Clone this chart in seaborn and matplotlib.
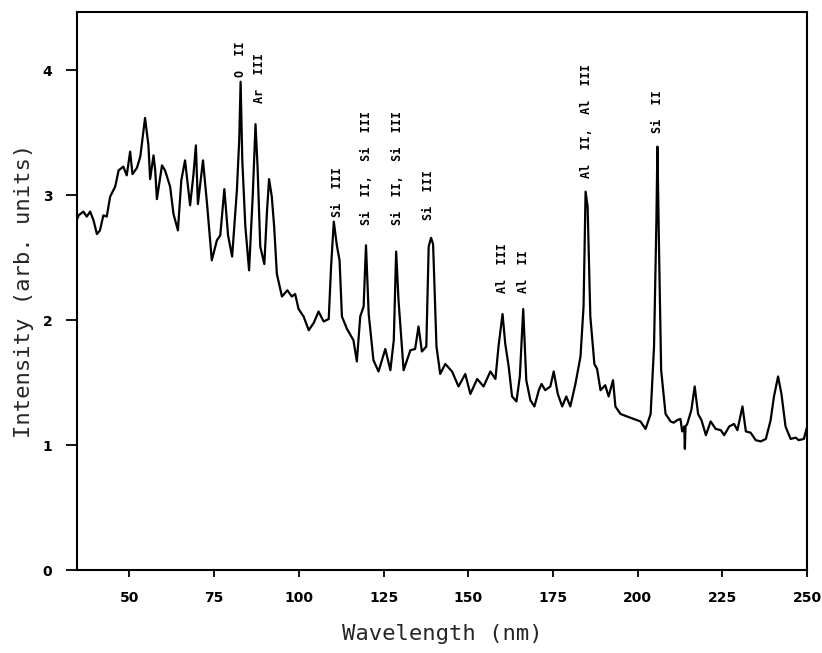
import matplotlib
matplotlib.use("Agg")
import matplotlib.pyplot as plt
import seaborn as sns

# --- Data ---
wavelength = [
    34.6, 35.0, 36.4, 37.4, 38.4, 39.4, 40.4, 41.3, 42.3, 43.3, 44.3, 45.8, 46.8, 48.2, 49.2,
    50.2, 50.9, 52.2, 53.2, 54.6, 55.6, 56.1, 57.1, 57.6, 58.1, 59.6, 60.5, 62.0, 63.0, 64.3,
    65.3, 66.4, 67.9, 68.9, 69.6, 70.2, 71.7, 72.9, 74.3, 75.8, 76.8, 78.0, 79.1, 80.3, 81.7,
    82.4, 82.8, 83.3, 84.2, 85.3, 86.4, 87.2, 87.8, 88.6, 89.8, 90.6, 91.2, 92.0, 92.7, 93.5,
    95.0, 96.6, 97.9, 98.9, 99.9, 100.4, 101.4, 102.9, 104.4, 105.8, 107.3, 108.8, 109.5, 110.3, 111.2,
    112.0, 112.7, 114.2, 116.1, 117.1, 118.1, 119.1, 119.8, 120.6, 122.0, 123.5, 125.5, 127.0, 128.0, 128.7,
    129.4, 130.9, 132.9, 134.3, 135.3, 136.3, 137.6, 138.3, 139.0, 139.6, 140.6, 141.7, 143.2, 145.2, 147.1,
    149.1, 150.6, 152.6, 154.5, 156.5, 158.0, 158.9, 160.1, 160.9, 161.9, 162.9, 164.2, 165.2, 166.2, 167.1,
    168.3, 169.5, 170.8, 171.6, 172.7, 174.2, 175.2, 176.4, 177.7, 178.9, 180.1, 181.6, 183.1, 184.0, 184.6,
    185.2, 186.0, 187.2, 188.0, 189.0, 190.4, 191.4, 192.7, 193.4, 194.9, 196.8, 198.8, 200.8, 202.3, 203.8,
    204.8, 205.5, 205.8, 206.3, 206.9, 208.2, 209.7, 210.6, 211.6, 212.6, 213.1, 213.7, 213.9, 214.1, 214.6,
    215.8, 216.8, 217.8, 218.8, 220.1, 221.5, 223.0, 224.5, 225.5, 227.0, 228.4, 229.4, 230.9, 231.9, 233.3,
    234.8, 236.3, 237.8, 239.2, 240.2, 241.4, 242.4, 243.6, 245.1, 246.6, 247.5, 249.0, 250.0,
]
intensity = [
    2.81, 2.84, 2.87, 2.83, 2.87, 2.80, 2.69, 2.72, 2.84, 2.83, 2.99, 3.07, 3.20, 3.23, 3.16,
    3.35, 3.17, 3.22, 3.31, 3.62, 3.40, 3.13, 3.32, 3.20, 2.97, 3.24, 3.20, 3.07, 2.85, 2.72,
    3.12, 3.28, 2.92, 3.17, 3.40, 2.93, 3.28, 2.93, 2.48, 2.64, 2.68, 3.05, 2.68, 2.51, 3.04,
    3.45, 3.91, 3.28, 2.75, 2.40, 3.01, 3.57, 3.23, 2.59, 2.45, 2.88, 3.13, 2.99, 2.75, 2.37,
    2.19, 2.24, 2.19, 2.21, 2.09, 2.07, 2.03, 1.92, 1.98, 2.07, 1.99, 2.01, 2.43, 2.79, 2.60,
    2.48, 2.03, 1.93, 1.84, 1.67, 2.03, 2.11, 2.60, 2.05, 1.68, 1.59, 1.77, 1.60, 1.84, 2.55,
    2.16, 1.60, 1.76, 1.77, 1.95, 1.75, 1.79, 2.59, 2.66, 2.61, 1.79, 1.57, 1.65, 1.59, 1.47,
    1.57, 1.41, 1.53, 1.47, 1.59, 1.53, 1.79, 2.05, 1.81, 1.63, 1.39, 1.35, 1.55, 2.09, 1.52,
    1.36, 1.31, 1.44, 1.49, 1.44, 1.47, 1.59, 1.41, 1.31, 1.39, 1.31, 1.49, 1.71, 2.11, 3.03,
    2.91, 2.03, 1.65, 1.61, 1.44, 1.48, 1.39, 1.52, 1.31, 1.25, 1.23, 1.21, 1.19, 1.13, 1.25,
    1.79, 2.80, 3.39, 2.53, 1.60, 1.25, 1.19, 1.18, 1.20, 1.21, 1.11, 1.15, 0.97, 1.15, 1.17,
    1.28, 1.47, 1.25, 1.20, 1.08, 1.19, 1.13, 1.12, 1.08, 1.15, 1.17, 1.12, 1.31, 1.11, 1.10,
    1.04, 1.03, 1.05, 1.20, 1.39, 1.55, 1.41, 1.15, 1.05, 1.06, 1.04, 1.05, 1.15,
]

# line identifications: label, wavelength, bottom of text
line_labels = ["O  II", "Ar  III", "Si  III", "Si  II,  Si  III", "Si  II,  Si  III", "Si  III",
               "Al  III", "Al  II", "Al  II,  Al  III", "Si  II"]
label_x = [82.7, 88.3, 111.3, 119.9, 129.0, 138.2, 160.0, 166.2, 184.8, 205.8]
label_y = [3.95, 3.74, 2.83, 2.76, 2.76, 2.80, 2.22, 2.22, 3.14, 3.50]

# --- Plot ---
sns.set_style("ticks")
plt.rcParams["font.family"] = ["DejaVu Sans Mono", "DejaVu Sans"]

fig = plt.figure(figsize=(8.22, 6.53), dpi=100)
ax = fig.add_axes([0.094, 0.127, 0.888, 0.855])

sns.lineplot(x=wavelength, y=intensity, ax=ax, color="black", linewidth=1.6)

for txt, lx, ly in zip(line_labels, label_x, label_y):
    ax.text(lx, ly, txt, rotation=90, ha="center", va="bottom",
            fontsize=8.5, fontweight="bold", color="black")

ax.set_xlim(34.6, 250)
ax.set_ylim(0, 4.47)
ax.set_xticks([50, 75, 100, 125, 150, 175, 200, 225, 250])
ax.set_yticks([0, 1, 2, 3, 4])
ax.tick_params(axis="both", direction="out", width=1.3, colors="black", labelsize=10)
ax.tick_params(axis="y", length=8, pad=10)
ax.tick_params(axis="x", length=5, pad=10)
for lbl in ax.get_xticklabels() + ax.get_yticklabels():
    lbl.set_fontweight("bold")
    lbl.set_family("DejaVu Sans")

for side in ["top", "right", "bottom", "left"]:
    ax.spines[side].set_visible(True)
    ax.spines[side].set_linewidth(1.5)
    ax.spines[side].set_color("black")

ax.set_xlabel("Wavelength (nm)", fontsize=16, labelpad=14)
ax.set_ylabel("Intensity (arb. units)", fontsize=16, labelpad=6)

fig.savefig("out.png", dpi=100)
